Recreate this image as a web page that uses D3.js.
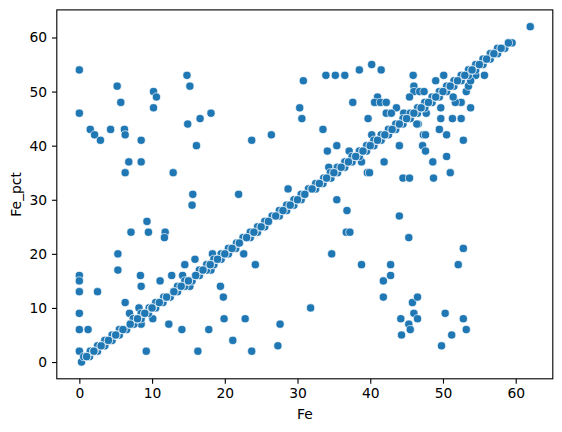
<!DOCTYPE html>
<html><head><meta charset="utf-8">
<script src="https://cdn.jsdelivr.net/npm/d3@7"></script>
<style>html,body{margin:0;padding:0;background:#fff}svg{display:block}text{font-family:"DejaVu Sans";fill:#000}</style>
</head><body><svg id="c" width="562" height="432"></svg>
<script>
const xLabel = "Fe", yLabel = "Fe_pct";
const xTicks = [0,10,20,30,40,50,60], yTicks = [0,10,20,30,40,50,60];
const scatterFe = [0,0,5.2,5.7,1.5,2.1,2.9,4.3,6.2,6.3,8.5,6.8,8.5,6.3,12.9,10.2,10.6,10.2,14.8,15.2,14.9,16.6,18.1,16.1,
 15.6,15.5,21.9,9.3,7.1,9.5,11.8,11.7,5.3,5.3,0,0,0,2.5,8.4,8.5,6.3,0,0,1.2,0,0.3,9.2,16.3,14.5,15.9,12.7,14.2,11.1,19.4,19.8,15.2,10.1,12.3,14.1,17.8,19.9,21.1,8.5,6.9,18.3,18.1,8.2,
 23.7,26.4,30.8,30.3,30.6,33.9,35.2,36.5,38.5,40.2,41.5,45.9,46,46,45.4,37.6,41,40.6,41.4,42.2,43.6,42.2,42.9,39.7,33.5,35.4,34.1,37.1,38.8,44,41.9,39.6,39.9,44.5,45.4,28.7,34.3,35.4,
 35.4,36.8,44,45.3,36.7,37.2,34.7,38.8,42.8,42.8,41.8,41.8,45.8,46.5,46,46.5,44.2,45.3,45.5,44.3,31.8,22.8,27.6,27.3,23.7,24.2,22.6,40.2,
 46.8,47.4,49,50.1,44.6,47.7,49.7,49.7,51.3,52.5,53.8,52.5,51.7,51.4,53.2,53.5,55.7,54.5,53.8,46.6,46.4,47.3,47.6,49.5,50.5,47.2,47.6,48.6,50.5,51,52.8,48.7,
 52.8,52.1,50.3,52.8,53.2,51.2,49.8];
const scatterPct = [54,46,51,48,43,42,41,43,43,42,41,37,37,35,35,50,49,47,53,51,44,45,46,40,
 31,29,31,26,24,24,24,23,20,17,16,15,13,13,16,14,11,9,6,6,2,0,2,2,18,19,16,16,15,14,12,14,8,7,6,6,8,4,7,9,20,17,10,
 41,42,52,47,45,53,53,53,54,55,54,53,51,50,49,48,49,48,48,48,47,46,46,45,43,40,39,39,37,40,37,35,35,34,34,32,36,36,
 30,28,27,23,24,24,20,18,18,16,15,12,11,12,9,8,8,7,6,5,10,8,7,3,2,18,20,42,
 50,50,52,53,46,46,47,45,45,45,47,48,48,49,50,51,53,53,52,44,44,42,42,43,42,40,39,37,38,35,41,34,
 21,18,9,8,6,5,3];
const diagFe = [1,1.4,0.6,2,2.5,1.5,3,2.5,3.5,4,3.5,4.5,5,4.5,5.5,6,5.5,6.5,7,7.5,7.5,8,8.5,7.4,9,8.5,9.5,9.6,10,10.5,11,10.5,11.5,12,11.6,12.5,13,13.5,14,13.5,14.5,15,14.5,15.5,16,16.5,17,16.5,17.5,18,17.5,18.5,19,18.5,19.5,20,19.5,20.5,21,20.5,21.5,22,21.6,23,22.5,23.5,24,23.5,24.5,25,24.5,25.5,26,25.5,27,26.5,27.5,28,27.5,28.5,29,28.5,29.5,30,29.5,30.5,31,30.5,32,31.5,32.5,33,32.5,33.5,34,33.6,34.6,35,34.5,35.5,36,35.5,36.5,37,36.5,37.5,38,37.5,38.5,39,38.5,39.5,40,39.5,40.5,41,40.5,41.5,42,41.5,42.5,43,42.5,43.5,44,43.5,44.5,45,44.5,45.5,46,45.5,46.5,47,46.5,47.5,48,47.5,48.5,49,48.5,49.5,50,49.5,50.5,51,50.5,51.5,52,51.5,52.5,53,52.5,53.5,54,53.5,54.5,55,54.5,55.5,56,55.5,56.5,57,56.5,57.5,58,57.5,58.5,59,59.5];
const diagPct = [1,1,1,2,2,2,3,3,3,4,4,4,5,5,5,6,6,6,7,7,8,8,8,8,9,9,9,10,10,10,11,11,11,12,12,12,13,13,14,14,14,15,15,15,16,16,17,17,17,18,18,18,19,19,19,20,20,20,21,21,21,22,22,23,23,23,24,24,24,25,25,25,26,26,27,27,27,28,28,28,29,29,29,30,30,30,31,31,32,32,32,33,33,33,34,34,34,35,35,35,36,36,36,37,37,37,38,38,38,39,39,39,40,40,40,41,41,41,42,42,42,43,43,43,44,44,44,45,45,45,46,46,46,47,47,47,48,48,48,49,49,49,50,50,50,51,51,51,52,52,52,53,53,53,54,54,54,55,55,55,56,56,56,57,57,57,58,58,58,59,59];
const stackedFe = [1,1,2,2,2,3,3,4,4,5,5,5,6,6,7,7,8,8,8,9,9,10,10,10,11,11,12,12,13,13,14,14,15,15,15,16,16,17,17,18,18,18,19,19,20,20,21,21,22,22,23,23,24,24,25,25,26,26,27,27,28,28,29,29,30,30,31,31,32,32,33,33,34,34,35,35,36,36,37,37,38,38,39,39,40,40,41,41,42,42,43,43,44,44,45,45,46,46,47,47,48,48,49,49,50,50,51,51,52,52,53,53,54,54,55,55,56,56,57,57,58,58,59,62];
const stackedPct = [1,1,2,2,2,3,3,4,4,5,5,5,6,6,7,7,8,8,8,9,9,10,10,10,11,11,12,12,13,13,14,14,15,15,15,16,16,17,17,18,18,18,19,19,20,20,21,21,22,22,23,23,24,24,25,25,26,26,27,27,28,28,29,29,30,30,31,31,32,32,33,33,34,34,35,35,36,36,37,37,38,38,39,39,40,40,41,41,42,42,43,43,44,44,45,45,46,46,47,47,48,48,49,49,50,50,51,51,52,52,53,53,54,54,55,55,56,56,57,57,58,58,59,62];

const svg = d3.select("#c");
const L=56.8,R=552.8,T=9.9,B=378.8;
const x = d3.scaleLinear().domain([-3.1,65.1]).range([L,R]);
const y = d3.scaleLinear().domain([-3.1,65.1]).range([B,T]);
const feAll = scatterFe.concat(diagFe, stackedFe), pctAll = scatterPct.concat(diagPct, stackedPct);
svg.append("g").selectAll("circle").data(feAll).join("circle")
  .attr("cx",d=>x(d)).attr("cy",(d,i)=>y(pctAll[i])).attr("r",4.1)
  .attr("fill","#1f77b4").attr("stroke","#fff").attr("stroke-width",0.67);
const gx = svg.append("g").attr("transform",`translate(0,${B})`)
  .call(d3.axisBottom(x).tickValues(xTicks).tickSize(4.86).tickPadding(4.86));
const gy = svg.append("g").attr("transform",`translate(${L},0)`)
  .call(d3.axisLeft(y).tickValues(yTicks).tickSize(4.86).tickPadding(4.86));
[gx,gy].forEach(g=>{g.select(".domain").remove();
  g.selectAll("line").attr("stroke","#000").attr("stroke-width",1.11);
  g.selectAll("text").attr("font-size",13.89).attr("font-family","DejaVu Sans");});
svg.append("rect").attr("x",L).attr("y",T).attr("width",R-L).attr("height",B-T)
  .attr("fill","none").attr("stroke","#000").attr("stroke-width",1.11);
svg.append("text").attr("x",(L+R)/2).attr("y",419).attr("text-anchor","middle").attr("font-size",13.89).text(xLabel);
svg.append("text").attr("transform",`translate(21,${(T+B)/2}) rotate(-90)`).attr("text-anchor","middle").attr("font-size",13.89).text(yLabel);
</script></body></html>
